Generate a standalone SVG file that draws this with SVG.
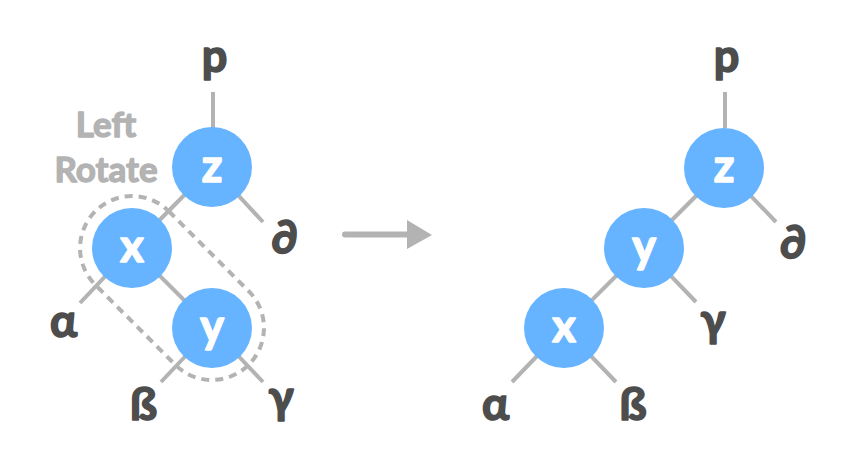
<svg xmlns="http://www.w3.org/2000/svg" width="856" height="470" viewBox="0 0 856 470">
<style>
.edge{stroke:#b3b3b3;stroke-width:4;fill:none}
.node circle{fill:#66b3ff}
.node text{fill:#ffffff;stroke:#ffffff;stroke-width:1.6;stroke-linejoin:round;font-family:Lato,"Noto Sans",sans-serif;font-weight:bold;font-size:45px;text-anchor:middle}
.lbl{fill:#4d4d4d;stroke:#4d4d4d;stroke-width:1.6;stroke-linejoin:round;font-family:Lato,"Noto Sans",sans-serif;font-weight:bold;font-size:45px;text-anchor:middle}
.note{fill:#b3b3b3;stroke:#b3b3b3;stroke-width:1.3;stroke-linejoin:round;font-family:Lato,"Noto Sans",sans-serif;font-weight:bold;font-size:35px;text-anchor:middle}
</style>
<rect width="856" height="470" fill="#ffffff"/>
<g id="connectors">
<line class="edge" x1="213" y1="92" x2="213" y2="128"/>
<line class="edge" x1="212" y1="167" x2="132" y2="248"/>
<line class="edge" x1="212" y1="167" x2="263" y2="222"/>
<line class="edge" x1="132" y1="248" x2="80" y2="303"/>
<line class="edge" x1="132" y1="248" x2="212" y2="328"/>
<line class="edge" x1="212" y1="328" x2="161" y2="382"/>
<line class="edge" x1="212" y1="328" x2="263" y2="382"/>
<line class="edge" x1="725" y1="92" x2="725" y2="128"/>
<line class="edge" x1="724" y1="168" x2="776" y2="222"/>
<line class="edge" x1="724" y1="168" x2="644" y2="248"/>
<line class="edge" x1="644" y1="248" x2="696" y2="302"/>
<line class="edge" x1="644" y1="248" x2="564" y2="328"/>
<line class="edge" x1="564" y1="328" x2="512" y2="382"/>
<line class="edge" x1="564" y1="328" x2="616" y2="382"/>
</g>
<g id="rotate-outline">
<rect x="63.5" y="236" width="217" height="104" rx="52" ry="52" transform="rotate(45 172 288)" fill="none" stroke="#b3b3b3" stroke-width="4" stroke-dasharray="8 6"/>
</g>
<g id="arrow">
<line x1="345" y1="234.5" x2="409" y2="234.5" stroke="#b3b3b3" stroke-width="6" stroke-linecap="round"/>
<polygon points="407,220 432,235 407,249" fill="#b3b3b3"/>
</g>
<g id="left-rotate-label">
<text class="note" x="106" y="137">Left</text>
<text class="note" x="106" y="182">Rotate</text>
</g>
<g id="left-z" class="node"><circle cx="212" cy="167" r="40"/><text x="212" y="181.5">z</text></g>
<g id="left-x" class="node"><circle cx="132" cy="248" r="40"/><text x="132" y="262">x</text></g>
<g id="left-y" class="node"><circle cx="212" cy="328" r="40"/><text x="212" y="342">y</text></g>
<g id="right-z" class="node"><circle cx="724" cy="168" r="40"/><text x="724" y="182">z</text></g>
<g id="right-y" class="node"><circle cx="644" cy="248" r="40"/><text x="644" y="262">y</text></g>
<g id="right-x" class="node"><circle cx="564" cy="328" r="40"/><text x="564" y="342">x</text></g>
<g id="labels">
<text class="lbl" x="214.5" y="71.5">p</text>
<text class="lbl" x="284.5" y="253">∂</text>
<text class="lbl" x="63.5" y="336.5">α</text>
<text class="lbl" x="143.5" y="419.5">ß</text>
<text class="lbl" x="281" y="412.5">γ</text>
<text class="lbl" x="726.5" y="71.5">p</text>
<text class="lbl" x="793" y="258">∂</text>
<text class="lbl" x="713" y="336">γ</text>
<text class="lbl" x="495.5" y="420">α</text>
<text class="lbl" x="633" y="420">ß</text>
</g>
</svg>
